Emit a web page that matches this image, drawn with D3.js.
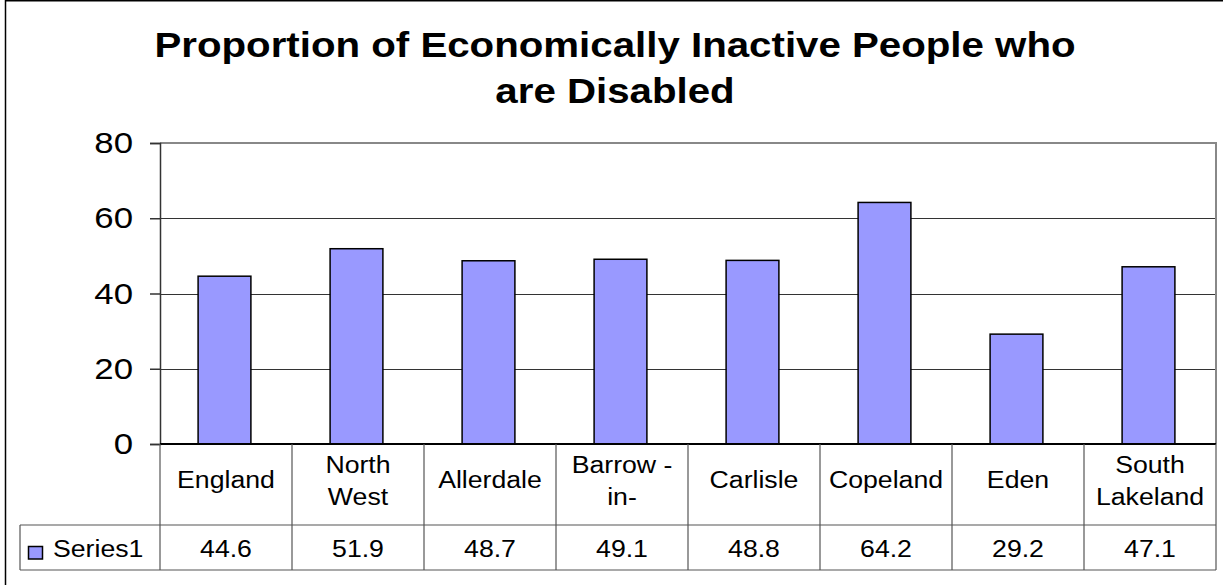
<!DOCTYPE html>
<html>
<head>
<meta charset="utf-8">
<script src="https://cdn.jsdelivr.net/npm/d3@7"></script>
<style>
  html, body { margin: 0; padding: 0; background: #fff; }
  svg { display: block; font-family: "Liberation Sans", Arial, sans-serif; }
</style>
</head>
<body>
<svg id="chart" width="1223" height="585"></svg>
<script>
// Chart data
const categories = ["England", "North West", "Allerdale", "Barrow -in-", "Carlisle", "Copeland", "Eden", "South Lakeland"];
const categoryLines = [["England"], ["North", "West"], ["Allerdale"], ["Barrow -", "in-"], ["Carlisle"], ["Copeland"], ["Eden"], ["South", "Lakeland"]];
const series1 = [44.6, 51.9, 48.7, 49.1, 48.8, 64.2, 29.2, 47.1];
const seriesName = "Series1";
const yTicks = [0, 20, 40, 60, 80];
const titleLines = ["Proportion of Economically Inactive People who", "are Disabled"];

const svg = d3.select("#chart");

// Layout
const plot = { left: 160, right: 1216, top: 143, bottom: 444 };
const table = { catBottom: 525, valBottom: 570, legendLeft: 20 };
const barFill = "#9999ff";
const SX = 1.16; // wide text rendering

// Places a horizontally widened text anchored at (x, y)
function wideText(parent, x, y, str, opts = {}) {
  const g = parent.append("g").attr("transform", `translate(${x},${y}) scale(${opts.sx || SX},1)`);
  const t = g.append("text")
    .attr("x", 0).attr("y", 0)
    .attr("text-anchor", opts.anchor || "middle")
    .attr("font-size", opts.size || 23)
    .attr("font-weight", opts.weight || "normal")
    .attr("fill", "#000")
    .text(str);
  return t;
}

// Outer chart frame
svg.append("path")
  .attr("d", "M5.5,585 V0.75 H1223")
  .attr("fill", "none").attr("stroke", "#000").attr("stroke-width", 1.5);

// Title
titleLines.forEach((t, i) => {
  wideText(svg, 615, 57 + i * 46, t, { size: 35, weight: "bold", sx: 1.15 });
});

// Scales
const x = d3.scaleBand().domain(categories).range([plot.left, plot.right]).padding(0);
const y = d3.scaleLinear().domain([0, 80]).range([plot.bottom, plot.top]);

// Gridlines
svg.append("g").selectAll("line")
  .data(yTicks.filter(v => v > 0 && v < 80))
  .join("line")
  .attr("x1", plot.left).attr("x2", plot.right)
  .attr("y1", d => Math.round(y(d)) + 0.5).attr("y2", d => Math.round(y(d)) + 0.5)
  .attr("stroke", "#333").attr("stroke-width", 1);

// Plot area border (top and right)
svg.append("path")
  .attr("d", `M${plot.left},${y(80)} H${plot.right} V${plot.bottom}`)
  .attr("fill", "none").attr("stroke", "#888").attr("stroke-width", 2);

// Bars
const barW = x.bandwidth() * 0.4;
svg.append("g").selectAll("rect")
  .data(series1)
  .join("rect")
  .attr("x", (d, i) => x(categories[i]) + (x.bandwidth() - barW) / 2 - 1.5)
  .attr("y", d => y(d))
  .attr("width", barW)
  .attr("height", d => y(0) - y(d))
  .attr("fill", barFill)
  .attr("stroke", "#000").attr("stroke-width", 1.5);

// Y axis
const yAxis = d3.axisLeft(y).tickValues(yTicks).tickSize(10).tickPadding(16);
const gy = svg.append("g").attr("transform", `translate(${plot.left},0)`).call(yAxis);
gy.select(".domain").attr("stroke", "#333").attr("stroke-width", 1.5);
gy.selectAll(".tick line").attr("stroke", "#333").attr("stroke-width", 1.5);
gy.selectAll(".tick text")
  .attr("font-family", "Liberation Sans, Arial, sans-serif")
  .attr("font-size", 30).attr("fill", "#000")
  .attr("x", 0)
  .attr("transform", `translate(-27,0) scale(${SX},1)`);

// Baseline
svg.append("line")
  .attr("x1", plot.left).attr("x2", plot.right)
  .attr("y1", plot.bottom).attr("y2", plot.bottom)
  .attr("stroke", "#000").attr("stroke-width", 2);

// Data table grid
const tg = svg.append("g").attr("stroke", "#555").attr("stroke-width", 1.2);
categories.forEach((c) => {
  tg.append("line")
    .attr("x1", x(c)).attr("x2", x(c))
    .attr("y1", plot.bottom).attr("y2", table.valBottom);
});
tg.append("line").attr("x1", plot.right).attr("x2", plot.right)
  .attr("y1", plot.bottom).attr("y2", table.valBottom);
tg.append("line").attr("x1", table.legendLeft).attr("x2", plot.right)
  .attr("y1", table.catBottom).attr("y2", table.catBottom);
tg.append("line").attr("x1", table.legendLeft).attr("x2", plot.right)
  .attr("y1", table.valBottom).attr("y2", table.valBottom);
tg.append("line").attr("x1", table.legendLeft).attr("x2", table.legendLeft)
  .attr("y1", table.catBottom).attr("y2", table.valBottom);

// Category labels
const catG = svg.append("g");
categoryLines.forEach((lines, i) => {
  const cx = x(categories[i]) + x.bandwidth() / 2;
  const startY = lines.length === 1 ? 488 : 473;
  lines.forEach((ln, j) => wideText(catG, cx, startY + j * 32, ln));
});

// Values row
const valG = svg.append("g");
series1.forEach((v, i) => {
  wideText(valG, x(categories[i]) + x.bandwidth() / 2, 556.5, v.toFixed(1));
});

// Legend key
svg.append("rect")
  .attr("x", 28.5).attr("y", 546.5).attr("width", 14).attr("height", 12.5)
  .attr("fill", barFill).attr("stroke", "#000").attr("stroke-width", 1.5);
wideText(svg, 53, 556.5, seriesName, { anchor: "start" });
</script>
</body>
</html>
